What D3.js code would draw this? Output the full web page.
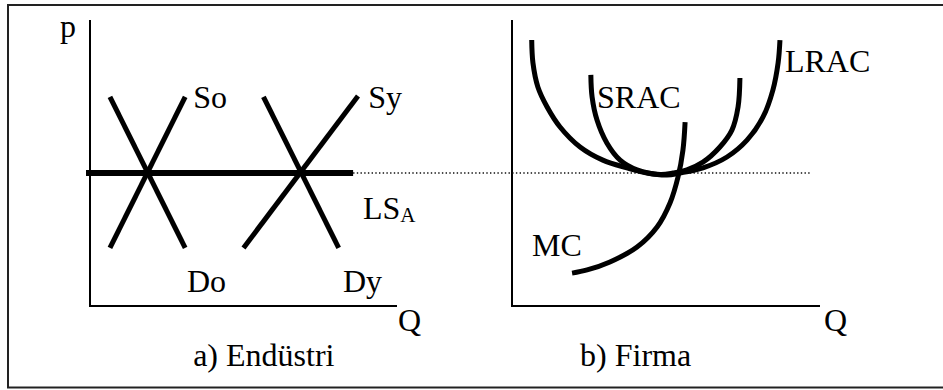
<!DOCTYPE html>
<html>
<head>
<meta charset="utf-8">
<script src="https://cdn.jsdelivr.net/npm/d3@7"></script>
<style>
  body { margin: 0; background: #fff; }
</style>
</head>
<body>
<div id="chart"></div>
<script>
// panel a) industry : straight supply / demand lines (Q, p in 0..100 units)
var demandOld = [[6.5, 73.1], [31, 20.3]];
var supplyOld = [[6.5, 20.3], [31, 73.1]];
var demandNew = [[56.5, 73.1], [81, 20.3]];
var supplyNew = [[50, 20.3], [87.3, 73.4]];
var lsPrice = 46.5;
var lsRange = [-1.3, 85.7];
var guideEnd = 96.8; // dotted price line ends inside panel b

var industryLabels = [
    { text: "So", q: 33.6, p: 69.2 },
    { text: "Sy", q: 90.6, p: 69.2 },
    { text: "Do", q: 31.6, p: 4.9 },
    { text: "Dy", q: 82.4, p: 4.9 }
];

// panel b) firm : cost curves
var lracPts = [[6.4, 93.0], [6.8, 85.0], [8.4, 76.6], [11.4, 69.6], [15.6, 62.6], [22.1, 55.6],
    [29.5, 51.0], [37.3, 48.3], [43.8, 46.5], [50.3, 45.8], [54.5, 46.5], [62.0, 48.3],
    [69.8, 52.1], [76.3, 58.0], [81.5, 66.1], [84.7, 75.5], [86.4, 85.0], [87.0, 93.0]];
var sracPts = [[25.6, 80.8], [26.0, 73.1], [27.6, 65.0], [30.8, 57.0], [35.1, 51.0], [40.6, 47.6],
    [48.1, 46.0], [52.3, 46.5], [56.8, 47.6], [62.0, 50.3], [67.5, 55.6], [71.4, 61.5],
    [73.4, 69.6], [74.0, 79.7]];
var mcPts = [[19.5, 11.5], [24.4, 12.6], [31.8, 15.4], [40.6, 20.6], [47.1, 27.6], [51.3, 36.0],
    [53.9, 45.1], [55.5, 54.5], [56.2, 64.3]];

var firmLabels = [
    { text: "LRAC", q: 88.6, p: 81.8 },
    { text: "SRAC", q: 27.6, p: 69.2 },
    { text: "MC", q: 6.5, p: 17.5 }
];

var width = 943, height = 390;
var serif = "'Liberation Serif', 'Times New Roman', serif";

var svg = d3.select("#chart").append("svg")
    .attr("width", width)
    .attr("height", height)
    .style("font-family", serif)

// frame
svg.append("rect")
    .attr("x", 8).attr("y", 5)
    .attr("width", 940).attr("height", 382.5)
    .attr("fill", "none")
    .attr("stroke", "#222")
    .attr("stroke-width", 2)

var xL = d3.scaleLinear().domain([0, 100]).range([90, 397]),
    yL = d3.scaleLinear().domain([0, 100]).range([306, 20]);
var xR = d3.scaleLinear().domain([0, 100]).range([512, 820]),
    yR = d3.scaleLinear().domain([0, 100]).range([306, 20]);

function drawAxes(x, y){
    svg.append("path")
        .attr("d", "M" + x(0) + "," + y(100) + "V" + y(0) + "H" + x(100))
        .attr("fill", "none")
        .attr("stroke", "#000")
        .attr("stroke-width", 2)
}
drawAxes(xL, yL);
drawAxes(xR, yR);

// dotted price guide from the end of LS to panel b
svg.append("line")
    .attr("x1", xL(lsRange[1])).attr("x2", xR(guideEnd))
    .attr("y1", yL(lsPrice)).attr("y2", yL(lsPrice))
    .attr("stroke", "#111")
    .attr("stroke-width", 1.3)
    .attr("stroke-dasharray", "1.4,2.3")

var lineL = d3.line()
    .x(function(d){ return xL(d[0]); })
    .y(function(d){ return yL(d[1]); });

[demandOld, supplyOld, demandNew, supplyNew].forEach(function(d){
    svg.append("path")
        .attr("d", lineL(d))
        .attr("fill", "none")
        .attr("stroke", "#000")
        .attr("stroke-width", 5)
})

svg.append("line")
    .attr("x1", xL(lsRange[0])).attr("x2", xL(lsRange[1]))
    .attr("y1", yL(lsPrice)).attr("y2", yL(lsPrice))
    .attr("stroke", "#000")
    .attr("stroke-width", 6)

var curveR = d3.line()
    .x(function(d){ return xR(d[0]); })
    .y(function(d){ return yR(d[1]); })
    .curve(d3.curveCatmullRom.alpha(0.5));

[lracPts, sracPts, mcPts].forEach(function(d){
    svg.append("path")
        .attr("d", curveR(d))
        .attr("fill", "none")
        .attr("stroke", "#000")
        .attr("stroke-width", 5)
})

// labels
function label(x, y, txt){
    return svg.append("text")
        .attr("x", x).attr("y", y)
        .style("font-family", serif)
        .attr("font-size", "32px")
        .attr("fill", "#000")
        .text(txt)
}

industryLabels.forEach(function(d){ label(xL(d.q), yL(d.p), d.text); })
firmLabels.forEach(function(d){ label(xR(d.q), yR(d.p), d.text); })

var ls = label(xL(88.9), yL(30.4), "LS")
ls.append("tspan").attr("font-size", "21px").attr("dy", 3).text("A")

label(xL(-9.8), yL(94.2), "p")
label(xL(100.3), yL(-8.7), "Q")
label(xR(101.3), yR(-8.7), "Q")

label(xL(33.6), yL(-21), "a) Endüstri")
label(xR(22.1), yR(-21), "b) Firma")
</script>
</body>
</html>
